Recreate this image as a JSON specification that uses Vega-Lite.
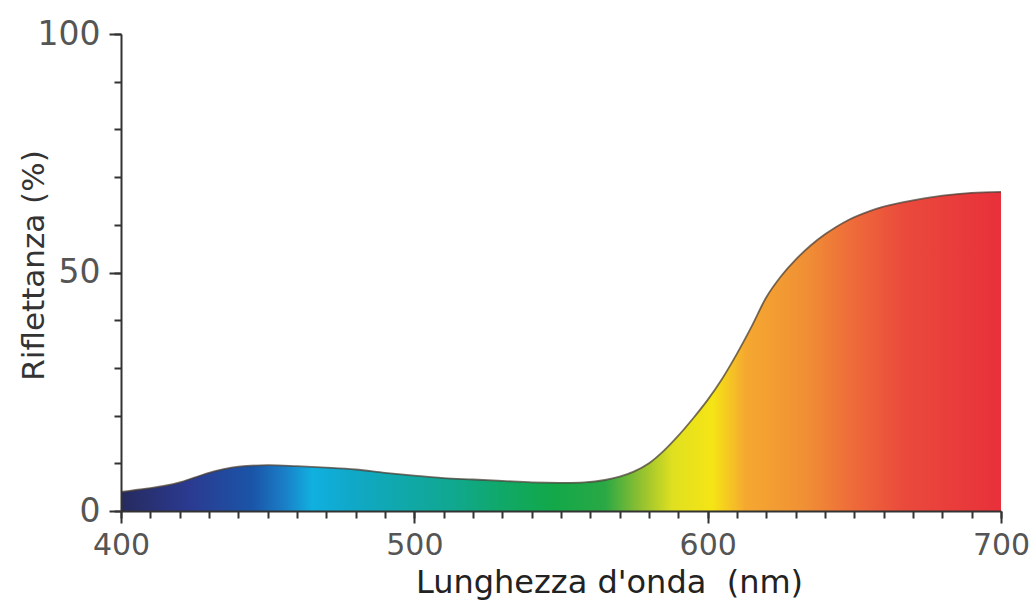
{
  "$schema": "https://vega.github.io/schema/vega-lite/v6.json",
  "width": 880,
  "height": 477,
  "autosize": "none",
  "padding": {"left": 121, "top": 34, "right": 33, "bottom": 89},
  "background": "white",
  "config": {"view": {"stroke": null}},
  "data": {
    "values": [
      {"wavelength": 400, "reflectance": 4.0},
      {"wavelength": 405, "reflectance": 4.4},
      {"wavelength": 410, "reflectance": 4.8},
      {"wavelength": 415, "reflectance": 5.3},
      {"wavelength": 420, "reflectance": 6.0},
      {"wavelength": 425, "reflectance": 7.0},
      {"wavelength": 430, "reflectance": 8.0},
      {"wavelength": 435, "reflectance": 8.8},
      {"wavelength": 440, "reflectance": 9.3},
      {"wavelength": 450, "reflectance": 9.6},
      {"wavelength": 460, "reflectance": 9.4},
      {"wavelength": 470, "reflectance": 9.1},
      {"wavelength": 480, "reflectance": 8.7},
      {"wavelength": 490, "reflectance": 8.0},
      {"wavelength": 500, "reflectance": 7.4},
      {"wavelength": 510, "reflectance": 6.9},
      {"wavelength": 520, "reflectance": 6.6},
      {"wavelength": 530, "reflectance": 6.3},
      {"wavelength": 540, "reflectance": 6.0},
      {"wavelength": 550, "reflectance": 5.9},
      {"wavelength": 558, "reflectance": 6.0},
      {"wavelength": 565, "reflectance": 6.5},
      {"wavelength": 570, "reflectance": 7.2},
      {"wavelength": 575, "reflectance": 8.3},
      {"wavelength": 580, "reflectance": 10.0},
      {"wavelength": 585, "reflectance": 12.6},
      {"wavelength": 590, "reflectance": 15.8},
      {"wavelength": 595, "reflectance": 19.4},
      {"wavelength": 600, "reflectance": 23.3},
      {"wavelength": 605, "reflectance": 27.8},
      {"wavelength": 610, "reflectance": 33.0},
      {"wavelength": 615, "reflectance": 38.7},
      {"wavelength": 620, "reflectance": 44.8},
      {"wavelength": 625, "reflectance": 49.2},
      {"wavelength": 630, "reflectance": 52.7},
      {"wavelength": 635, "reflectance": 55.6},
      {"wavelength": 640, "reflectance": 58.0},
      {"wavelength": 648, "reflectance": 61.0},
      {"wavelength": 655, "reflectance": 62.8},
      {"wavelength": 660, "reflectance": 63.8},
      {"wavelength": 670, "reflectance": 65.1},
      {"wavelength": 680, "reflectance": 66.1},
      {"wavelength": 690, "reflectance": 66.7},
      {"wavelength": 700, "reflectance": 66.9}
    ]
  },
  "layer": [
    {
      "mark": {
        "type": "area",
        "interpolate": "catmull-rom",
        "fill": {
          "gradient": "linear",
          "x1": 0, "y1": 0, "x2": 1, "y2": 0,
          "stops": [
            {"offset": 0, "color": "#262a5e"},
            {"offset": 0.077, "color": "#2b3a90"},
            {"offset": 0.15, "color": "#1a55a8"},
            {"offset": 0.187, "color": "#1a80c8"},
            {"offset": 0.217, "color": "#10b0e0"},
            {"offset": 0.263, "color": "#10a8c8"},
            {"offset": 0.32, "color": "#10a8aa"},
            {"offset": 0.377, "color": "#10a890"},
            {"offset": 0.433, "color": "#10a868"},
            {"offset": 0.49, "color": "#12a84a"},
            {"offset": 0.55, "color": "#2aa845"},
            {"offset": 0.59, "color": "#90c030"},
            {"offset": 0.627, "color": "#e0e020"},
            {"offset": 0.672, "color": "#f5e515"},
            {"offset": 0.71, "color": "#f5a830"},
            {"offset": 0.777, "color": "#f09035"},
            {"offset": 0.833, "color": "#ee6a3a"},
            {"offset": 0.89, "color": "#ea4a3c"},
            {"offset": 1, "color": "#e8303a"}
          ]
        }
      },
      "encoding": {
        "x": {
          "field": "wavelength", "type": "quantitative",
          "scale": {"domain": [400, 700], "nice": false, "zero": false},
          "axis": {
            "orient": "bottom",
            "values": [400,410,420,430,440,450,460,470,480,490,500,510,520,530,540,550,560,570,580,590,600,610,620,630,640,650,660,670,680,690,700],
            "labels": false, "title": null, "grid": false,
            "tickSize": 7, "tickWidth": 2, "tickColor": "#333",
            "domain": true, "domainColor": "#333", "domainWidth": 2,
            "zindex": 1
          }
        },
        "y": {
          "field": "reflectance", "type": "quantitative",
          "scale": {"domain": [0, 100], "nice": false},
          "axis": {
            "orient": "left",
            "values": [0,10,20,30,40,50,60,70,80,90,100],
            "labels": false, "title": null, "grid": false,
            "tickSize": 7, "tickWidth": 2, "tickColor": "#333",
            "domain": true, "domainColor": "#333", "domainWidth": 2,
            "zindex": 1
          }
        }
      }
    },
    {
      "mark": {"type": "line", "interpolate": "catmull-rom", "color": "#4a3f35", "strokeWidth": 1.8, "opacity": 0.75},
      "encoding": {
        "x": {
          "field": "wavelength", "type": "quantitative",
          "scale": {"domain": [400, 700], "nice": false, "zero": false},
          "axis": {
            "orient": "bottom",
            "values": [400, 500, 600, 700],
            "grid": false,
            "tickSize": 12, "tickWidth": 2, "tickColor": "#333",
            "domain": false,
            "labelFont": "DejaVu Sans", "labelFontSize": 30, "labelColor": "#555",
            "labelBaseline": "alphabetic", "labelPadding": 31, "labelFlush": false,
            "labelOverlap": false,
            "title": "Lunghezza d'onda \u00a0(nm)",
            "titleFont": "DejaVu Sans", "titleFontSize": 32, "titleFontWeight": "normal",
            "titleColor": "#222", "titleX": 488, "titleY": 81,
            "titleAlign": "center", "titleBaseline": "alphabetic",
            "zindex": 1
          }
        },
        "y": {
          "field": "reflectance", "type": "quantitative",
          "scale": {"domain": [0, 100], "nice": false},
          "axis": {
            "orient": "left",
            "values": [0, 50, 100],
            "grid": false,
            "tickSize": 12, "tickWidth": 2, "tickColor": "#333",
            "domain": false,
            "labelFont": "DejaVu Sans", "labelFontSize": 33, "labelColor": "#555",
            "labelBaseline": "middle", "labelPadding": 9, "labelFlush": false,
            "labelOverlap": false,
            "title": "Riflettanza (%)",
            "titleFont": "DejaVu Sans", "titleFontSize": 31, "titleFontWeight": "normal",
            "titleColor": "#333", "titleX": -78, "titleY": 231,
            "titleAlign": "center", "titleBaseline": "alphabetic", "titleAngle": -90,
            "zindex": 1
          }
        }
      }
    }
  ],
  "resolve": {"axis": {"x": "independent", "y": "independent"}}
}
